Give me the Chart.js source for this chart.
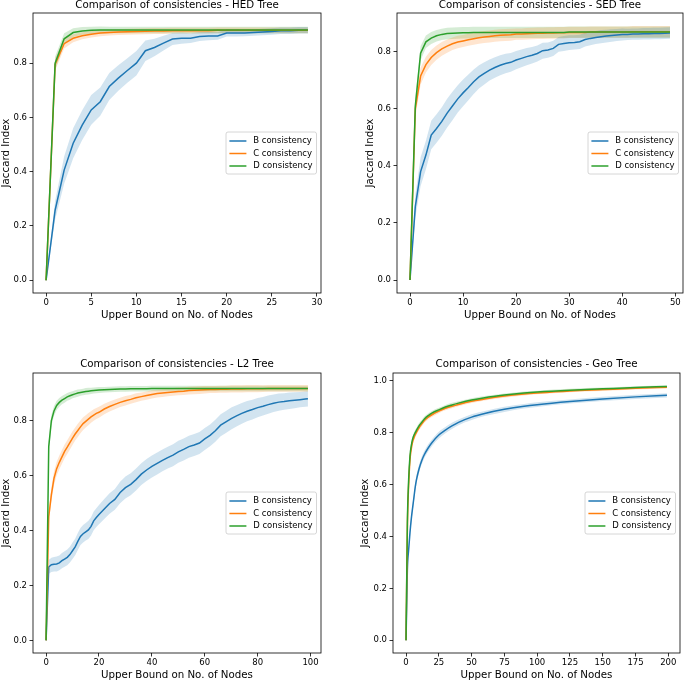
<!DOCTYPE html>
<html>
<head>
<meta charset="utf-8">
<script src="https://cdn.jsdelivr.net/npm/chart.js@4.4.0/dist/chart.umd.min.js"></script>
<style>
html, body { margin: 0; padding: 0; background: #fff; }
body { width: 685px; height: 681px; position: relative; overflow: hidden; }
canvas { position: absolute; display: block; }
</style>
</head>
<body>
<canvas id="hed" width="330" height="330" style="left:0;top:0"></canvas>
<canvas id="sed" width="345" height="330" style="left:340px;top:0"></canvas>
<canvas id="l2" width="330" height="351" style="left:0;top:330px"></canvas>
<canvas id="geo" width="345" height="351" style="left:340px;top:330px"></canvas>
<script>
const seriesLabels = ["B consistency", "C consistency", "D consistency"];
const seriesColors = ["#1f77b4", "#ff7f0e", "#2ca02c"];
const bandColors = ["rgba(31,119,180,0.2)", "rgba(255,127,14,0.2)", "rgba(44,160,44,0.2)"];
const yTicks = [0, 0.2, 0.4, 0.6, 0.8];
const geoYTicks = [0, 0.2, 0.4, 0.6, 0.8, 1.0];

// HED tree
const hedX = [0,1,2,3,4,5,6,7,8,9,10,11,12,13,14,15,16,17,18,19,20,21,22,23,24,25,26,27,28,29];
const hedXTicks = [0, 5, 10, 15, 20, 25, 30];
const hedB = [0,0.258,0.406,0.505,0.572,0.628,0.658,0.714,0.745,0.773,0.800,0.846,0.858,0.874,0.889,0.892,0.892,0.898,0.900,0.900,0.911,0.911,0.911,0.913,0.915,0.917,0.920,0.920,0.921,0.921];
const hedBSpread = [0,0.035,0.05,0.055,0.055,0.055,0.052,0.05,0.047,0.045,0.045,0.038,0.032,0.027,0.022,0.02,0.018,0.016,0.015,0.014,0.013,0.013,0.012,0.012,0.012,0.012,0.012,0.012,0.012,0.012];
const hedC = [0,0.795,0.872,0.892,0.901,0.907,0.911,0.913,0.915,0.916,0.917,0.918,0.919,0.919,0.920,0.920,0.920,0.920,0.920,0.921,0.921,0.921,0.921,0.921,0.921,0.921,0.921,0.921,0.921,0.921];
const hedCSpread = [0,0.022,0.018,0.015,0.013,0.012,0.012,0.011,0.011,0.011,0.011,0.011,0.011,0.011,0.011,0.011,0.011,0.011,0.011,0.011,0.011,0.011,0.011,0.011,0.011,0.011,0.011,0.011,0.011,0.011];
const hedD = [0,0.800,0.890,0.913,0.919,0.921,0.922,0.922,0.922,0.922,0.922,0.922,0.922,0.922,0.922,0.922,0.922,0.922,0.922,0.922,0.922,0.922,0.922,0.922,0.922,0.922,0.922,0.922,0.922,0.922];
const hedDSpread = [0,0.025,0.02,0.016,0.014,0.013,0.013,0.012,0.012,0.012,0.012,0.012,0.012,0.012,0.012,0.012,0.012,0.012,0.012,0.012,0.012,0.012,0.012,0.012,0.012,0.012,0.012,0.012,0.012,0.012];

// SED tree
const sedX = [0,1,2,3,4,5,6,7,8,9,10,11,12,13,14,15,16,17,18,19,20,21,22,23,24,25,26,27,28,29,30,31,32,33,34,35,36,37,38,39,40,41,42,43,44,45,46,47,48,49];
const sedXTicks = [0, 10, 20, 30, 40, 50];
const sedB = [0,0.257,0.380,0.438,0.508,0.531,0.556,0.585,0.610,0.635,
  0.656,0.675,0.695,0.712,0.724,0.736,0.745,0.753,0.759,0.763,
  0.771,0.777,0.783,0.788,0.794,0.804,0.806,0.812,0.826,0.829,
  0.832,0.833,0.835,0.843,0.847,0.850,0.853,0.855,0.857,0.859,
  0.861,0.861,0.862,0.862,0.863,0.863,0.864,0.864,0.865,0.866];
const sedBSpread = [0,0.04,0.05,0.05,0.05,0.05,0.05,0.05,0.05,0.048,
  0.047,0.045,0.043,0.041,0.039,0.037,0.036,0.035,0.034,0.033,
  0.032,0.031,0.03,0.029,0.028,0.028,0.027,0.027,0.026,0.026,
  0.026,0.025,0.025,0.024,0.024,0.023,0.023,0.022,0.022,0.021,
  0.021,0.02,0.02,0.02,0.02,0.02,0.02,0.02,0.02,0.02];
const sedC = [0,0.600,0.715,0.755,0.780,0.797,0.810,0.820,0.828,0.834,
  0.838,0.842,0.846,0.849,0.852,0.854,0.856,0.858,0.859,0.860,
  0.862,0.862,0.863,0.864,0.865,0.865,0.866,0.866,0.867,0.867,
  0.868,0.868,0.868,0.868,0.869,0.869,0.869,0.869,0.869,0.869,
  0.869,0.869,0.870,0.870,0.870,0.870,0.870,0.870,0.870,0.870];
const sedCSpread = [0,0.03,0.03,0.028,0.026,0.025,0.024,0.023,0.022,0.022,
  0.021,0.021,0.021,0.021,0.021,0.021,0.021,0.021,0.021,0.021,
  0.02,0.02,0.02,0.02,0.02,0.02,0.02,0.02,0.02,0.02,
  0.02,0.02,0.02,0.02,0.02,0.02,0.02,0.02,0.02,0.02,
  0.02,0.02,0.02,0.02,0.02,0.02,0.02,0.02,0.02,0.02];
const sedD = [0,0.610,0.795,0.835,0.848,0.856,0.861,0.864,0.865,0.866,
  0.867,0.867,0.868,0.868,0.868,0.868,0.868,0.868,0.868,0.868,
  0.868,0.868,0.868,0.868,0.868,0.868,0.868,0.868,0.868,0.868,
  0.869,0.869,0.869,0.869,0.869,0.869,0.869,0.869,0.869,0.869,
  0.869,0.869,0.869,0.869,0.869,0.869,0.869,0.869,0.869,0.869];
const sedDSpread = [0,0.03,0.025,0.022,0.021,0.02,0.02,0.02,0.02,0.02,
  0.02,0.02,0.02,0.02,0.02,0.02,0.02,0.02,0.02,0.02,
  0.02,0.02,0.02,0.02,0.02,0.02,0.02,0.02,0.02,0.02,
  0.02,0.02,0.02,0.02,0.02,0.02,0.02,0.02,0.02,0.02,
  0.02,0.02,0.02,0.02,0.02,0.02,0.02,0.02,0.02,0.02];

// L2 tree
const l2X = [0,1,2,3,4,5,6,7,8,9,10,11,12,13,14,15,16,17,18,19,20,
  22,24,26,28,30,32,34,36,38,40,42,44,46,48,50,52,54,56,58,60,
  62,64,66,68,70,72,74,76,78,80,82,84,86,88,90,92,94,96,98,99];
const l2XTicks = [0, 20, 40, 60, 80, 100];
const l2B = [0,0.267,0.275,0.277,0.278,0.282,0.290,0.296,0.302,0.312,0.326,0.340,0.360,0.378,0.388,0.395,0.402,0.415,0.435,0.447,0.458,
  0.478,0.498,0.513,0.538,0.556,0.568,0.585,0.605,0.620,0.633,
  0.644,0.655,0.665,0.674,0.686,0.695,0.705,0.711,0.718,0.733,
  0.746,0.763,0.783,0.795,0.807,0.817,0.826,0.834,0.840,0.847,
  0.852,0.858,0.863,0.867,0.869,0.872,0.874,0.876,0.878,0.879];
const l2BSpread = [0,0.025,0.026,0.026,0.027,0.027,0.028,0.028,0.029,0.029,0.03,0.03,0.031,0.031,0.032,0.032,0.033,0.033,0.034,0.034,0.035,
  0.036,0.037,0.038,0.039,0.04,0.04,0.04,0.04,0.04,0.04,
  0.04,0.04,0.04,0.04,0.04,0.04,0.04,0.04,0.04,0.04,
  0.04,0.04,0.04,0.04,0.04,0.039,0.038,0.037,0.036,0.035,
  0.034,0.033,0.032,0.031,0.03,0.03,0.029,0.028,0.028,0.028];
const l2C = [0,0.450,0.530,0.590,0.625,0.648,0.668,0.688,0.703,0.720,0.736,0.751,0.764,0.777,0.789,0.797,0.805,0.813,0.820,0.826,0.830,
  0.842,0.851,0.859,0.866,0.872,0.877,0.883,0.887,0.891,0.895,
  0.898,0.900,0.902,0.904,0.906,0.907,0.909,0.910,0.911,0.912,
  0.913,0.913,0.914,0.914,0.915,0.915,0.915,0.916,0.916,0.916,
  0.916,0.917,0.917,0.917,0.917,0.917,0.917,0.917,0.917,0.917];
const l2CSpread = [0,0.02,0.025,0.025,0.025,0.025,0.025,0.025,0.025,0.025,0.025,0.024,0.024,0.023,0.023,0.022,0.022,0.021,0.021,0.02,0.02,
  0.019,0.018,0.018,0.017,0.017,0.016,0.016,0.015,0.015,0.015,
  0.014,0.014,0.014,0.014,0.014,0.014,0.014,0.014,0.014,0.014,
  0.013,0.013,0.013,0.013,0.013,0.013,0.013,0.013,0.013,0.013,
  0.012,0.012,0.012,0.012,0.012,0.012,0.012,0.012,0.012,0.012];
const l2D = [0,0.705,0.800,0.835,0.855,0.866,0.874,0.880,0.886,0.890,0.894,0.897,0.900,0.902,0.904,0.906,0.907,0.908,0.909,0.910,0.911,
  0.912,0.913,0.914,0.915,0.915,0.916,0.916,0.916,0.916,0.917,
  0.917,0.917,0.917,0.917,0.917,0.917,0.917,0.917,0.917,0.917,
  0.917,0.917,0.917,0.917,0.917,0.917,0.917,0.917,0.917,0.917,
  0.917,0.917,0.917,0.917,0.917,0.917,0.917,0.917,0.917,0.917];
const l2DSpread = [0,0.02,0.02,0.018,0.017,0.016,0.015,0.015,0.014,0.014,0.013,0.013,0.013,0.012,0.012,0.012,0.012,0.011,0.011,0.011,0.011,
  0.01,0.01,0.01,0.01,0.01,0.01,0.01,0.01,0.01,0.01,
  0.01,0.01,0.01,0.01,0.01,0.01,0.01,0.01,0.01,0.01,
  0.01,0.01,0.01,0.01,0.01,0.01,0.01,0.01,0.01,0.01,
  0.01,0.01,0.01,0.01,0.01,0.01,0.01,0.01,0.01,0.01];

// Geo tree
const geoX = [0,1,2,3,4,5,6,7,8,10,12,14,17,20,25,30,35,40,50,60,75,90,100,125,150,175,199];
const geoXTicks = [0, 25, 50, 75, 100, 125, 150, 175, 200];
const geoB = [0,0.270,0.350,0.415,0.468,0.510,0.550,0.590,0.620,0.662,0.693,0.716,0.742,0.763,0.791,0.810,0.826,0.840,0.860,0.874,0.890,0.902,0.908,0.920,0.930,0.938,0.944];
const geoBSpread = [0,0.012,0.015,0.016,0.016,0.016,0.016,0.016,0.016,0.015,0.015,0.014,0.014,0.013,0.013,0.012,0.012,0.011,0.011,0.01,0.01,0.009,0.009,0.008,0.008,0.008,0.008];
const geoC = [0,0.430,0.600,0.695,0.738,0.765,0.780,0.792,0.802,0.820,0.834,0.847,0.860,0.870,0.883,0.894,0.902,0.909,0.921,0.930,0.941,0.949,0.953,0.961,0.966,0.971,0.975];
const geoCSpread = [0,0.01,0.012,0.012,0.012,0.011,0.011,0.011,0.01,0.01,0.01,0.009,0.009,0.009,0.008,0.008,0.008,0.007,0.007,0.006,0.006,0.006,0.005,0.005,0.005,0.005,0.005];
const geoD = [0,0.450,0.620,0.710,0.750,0.775,0.790,0.800,0.810,0.827,0.840,0.853,0.866,0.876,0.888,0.899,0.907,0.914,0.926,0.935,0.945,0.953,0.957,0.964,0.969,0.974,0.978];
const geoDSpread = [0,0.01,0.012,0.012,0.012,0.011,0.011,0.011,0.01,0.01,0.01,0.009,0.009,0.009,0.008,0.008,0.008,0.007,0.007,0.006,0.006,0.006,0.005,0.005,0.005,0.005,0.005];

const labelFont = { family: "DejaVu Sans", size: 10.25, lineHeight: "12px" };
const tickFont = { family: "DejaVu Sans", size: 8.5 };

// mpl style box around the axes
const frame = {
    id: "frame",
    afterDatasetsDraw(chart) {
        const { ctx, chartArea: a } = chart;
        ctx.save();
        ctx.strokeStyle = "#000";
        ctx.lineWidth = 0.8;
        ctx.strokeRect(a.left, a.top, a.right - a.left, a.bottom - a.top);
        ctx.restore();
    }
};

// legend box at "center right" inside the axes
const boxLegend = {
    id: "boxLegend",
    afterDraw(chart) {
        const { ctx, chartArea: a } = chart;
        const w = 90.5, h = 42;
        const x = a.right - 4.5 - w;
        const y = (a.top + a.bottom) / 2 - h / 2;
        ctx.save();
        ctx.fillStyle = "rgba(255,255,255,0.8)";
        ctx.strokeStyle = "#cccccc";
        ctx.lineWidth = 0.8;
        ctx.beginPath();
        ctx.roundRect(x, y, w, h, 2);
        ctx.fill();
        ctx.stroke();
        ctx.font = '8.5px "DejaVu Sans"';
        ctx.textBaseline = "middle";
        seriesLabels.forEach((label, i) => {
            const ry = y + 9 + i * 12.5;
            ctx.strokeStyle = seriesColors[i];
            ctx.lineWidth = 1.5;
            ctx.beginPath();
            ctx.moveTo(x + 3.4, ry);
            ctx.lineTo(x + 20.4, ry);
            ctx.stroke();
            ctx.fillStyle = "#000";
            ctx.fillText(label, x + 27.2, ry);
        });
        ctx.restore();
    }
};

function makePanel(id, p) {
    const datasets = [];
    p.series.forEach((s, i) => {
        const base = datasets.length;
        const common = { pointRadius: 0, borderWidth: 0, cubicInterpolationMode: p.smooth ? "monotone" : "default", order: 10 };
        datasets.push(Object.assign({}, common, {
            data: p.x.map((v, k) => ({ x: v, y: s.mean[k] - s.spread[k] })),
            fill: false
        }));
        datasets.push(Object.assign({}, common, {
            data: p.x.map((v, k) => ({ x: v, y: s.mean[k] + s.spread[k] })),
            fill: base,
            backgroundColor: bandColors[i]
        }));
    });
    p.series.forEach((s, i) => {
        datasets.push({
            data: p.x.map((v, k) => ({ x: v, y: s.mean[k] })),
            borderColor: seriesColors[i],
            borderWidth: 1.5,
            pointRadius: 0,
            fill: false,
            cubicInterpolationMode: p.smooth ? "monotone" : "default",
            order: 2 - i
        });
    });

    const gridOpts = { drawOnChartArea: false, tickLength: 3.5, color: "#000", lineWidth: 0.8 };

    new Chart(document.getElementById(id), {
        type: "line",
        data: { datasets: datasets },
        plugins: [frame, boxLegend],
        options: {
            responsive: false,
            animation: false,
            devicePixelRatio: 1,
            layout: { padding: { left: 0, right: p.padRight, top: 0, bottom: 0 } },
            plugins: {
                legend: { display: false },
                tooltip: { enabled: false },
                title: {
                    display: true,
                    fullSize: false,
                    text: p.title,
                    color: "#000",
                    font: { family: "DejaVu Sans", size: 10.25, weight: "normal", lineHeight: "11px" },
                    padding: { top: p.titleTop, bottom: p.titleBottom }
                }
            },
            scales: {
                x: {
                    type: "linear",
                    min: p.xMin,
                    max: p.xMax,
                    afterBuildTicks: (s) => { s.ticks = p.xTicks.map((v) => ({ value: v })); },
                    afterFit: (s) => { s.height = p.xAxisH; },
                    grid: gridOpts,
                    border: { display: false },
                    ticks: { font: tickFont, color: "#000", padding: 1, maxRotation: 0, autoSkip: false,
                        callback: (v) => String(v) },
                    title: { display: true, text: "Upper Bound on No. of Nodes", color: "#000", font: labelFont,
                        padding: { top: 0, bottom: p.xTitlePad } }
                },
                y: {
                    type: "linear",
                    min: p.yMin,
                    max: p.yMax,
                    afterBuildTicks: (s) => { s.ticks = p.yTicks.map((v) => ({ value: v })); },
                    afterFit: (s) => { s.width = p.yAxisW; },
                    grid: gridOpts,
                    border: { display: false },
                    ticks: { font: tickFont, color: "#000", padding: 2.5, autoSkip: false,
                        callback: (v) => v.toFixed(1) },
                    title: { display: true, text: "Jaccard Index", color: "#000", font: labelFont,
                        padding: { top: p.yTitlePad, bottom: 0 } }
                }
            }
        }
    });
}

makePanel("hed", {
    title: "Comparison of consistencies - HED Tree",
    x: hedX, xTicks: hedXTicks, yTicks: yTicks,
    xMin: -1.45, xMax: 30.45, yMin: -0.047, yMax: 0.985,
    series: [
        { mean: hedB, spread: hedBSpread },
        { mean: hedC, spread: hedCSpread },
        { mean: hedD, spread: hedDSpread }
    ],
    padRight: 9, yAxisW: 33, xAxisH: 37, titleTop: 0, titleBottom: 2, xTitlePad: 9, yTitlePad: 0
});

makePanel("sed", {
    title: "Comparison of consistencies - SED Tree",
    x: sedX, xTicks: sedXTicks, yTicks: yTicks,
    xMin: -2.45, xMax: 51.45, yMin: -0.0455, yMax: 0.936,
    series: [
        { mean: sedB, spread: sedBSpread },
        { mean: sedC, spread: sedCSpread },
        { mean: sedD, spread: sedDSpread }
    ],
    padRight: 2, yAxisW: 57, xAxisH: 37, titleTop: 0, titleBottom: 2, xTitlePad: 9, yTitlePad: 24
});

makePanel("l2", {
    title: "Comparison of consistencies - L2 Tree",
    x: l2X, xTicks: l2XTicks, yTicks: yTicks,
    xMin: -4.95, xMax: 103.95, yMin: -0.046, yMax: 0.973,
    series: [
        { mean: l2B, spread: l2BSpread },
        { mean: l2C, spread: l2CSpread },
        { mean: l2D, spread: l2DSpread }
    ],
    padRight: 9, yAxisW: 33, xAxisH: 28, titleTop: 29, titleBottom: 3, xTitlePad: 0, yTitlePad: 0
});

makePanel("geo", {
    title: "Comparison of consistencies - Geo Tree",
    x: geoX, xTicks: geoXTicks, yTicks: geoYTicks, smooth: true,
    xMin: -9.95, xMax: 208.95, yMin: -0.049, yMax: 1.03,
    series: [
        { mean: geoB, spread: geoBSpread },
        { mean: geoC, spread: geoCSpread },
        { mean: geoD, spread: geoDSpread }
    ],
    padRight: 5, yAxisW: 53, xAxisH: 28, titleTop: 29, titleBottom: 3, xTitlePad: 0, yTitlePad: 19
});
</script>
</body>
</html>
